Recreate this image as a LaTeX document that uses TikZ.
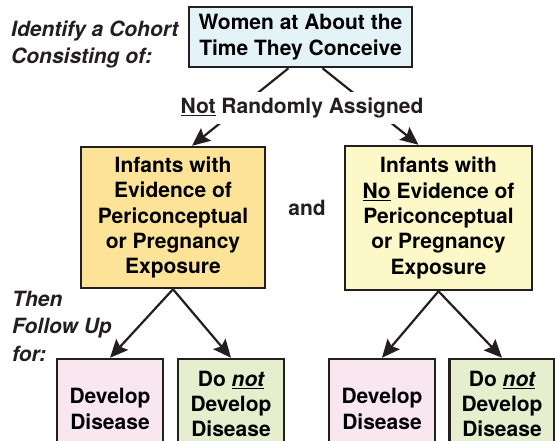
\documentclass[tikz,border=0pt]{standalone}
\usepackage{fontspec}
\setmainfont{TeX Gyre Heros}
\usetikzlibrary{arrows.meta}
\definecolor{boxline}{HTML}{231F20}
\definecolor{boxblue}{HTML}{E3F3F8}
\definecolor{boxorange}{HTML}{FDE398}
\definecolor{boxyellow}{HTML}{FCF8C8}
\definecolor{boxpink}{HTML}{F9E7F0}
\definecolor{boxgreen}{HTML}{E5EECD}
\begin{document}
\begin{tikzpicture}[x=1pt,y=-1pt,
  box/.style={draw=boxline,line width=2.5pt,align=center,inner sep=0pt,
    font=\fontsize{21}{25.3}\selectfont\bfseries},
  arr/.style={-{Stealth[length=18pt,width=16pt,inset=3pt]},line width=2.2pt,draw=boxline},
  side/.style={align=left,anchor=west,inner sep=0pt,text=boxline,
    font=\fontsize{21}{27.5}\selectfont\bfseries\itshape}]
\useasboundingbox (0,0) rectangle (555,440);
\clip (0,0) rectangle (555,440);
% cohort
\node[box,fill=boxblue,minimum width=223pt,minimum height=60pt] (women) at (300.5,37) {Women at About the\\Time They Conceive};
\node[side] (identify) at (11,44.5) {Identify a Cohort\\Consisting of:};
% exposure groups
\node[box,fill=boxorange,minimum width=184pt,minimum height=141pt] (exposed) at (173,217.5) {Infants with\\Evidence of\\Periconceptual\\or Pregnancy\\Exposure};
\node[box,fill=boxyellow,minimum width=187pt,minimum height=144pt] (unexposed) at (438.5,218) {Infants with\\\underline{No} Evidence of\\Periconceptual\\or Pregnancy\\Exposure};
\node[font=\fontsize{21}{25}\selectfont\bfseries,text=boxline] (and) at (307,208) {and};
\draw[arr] ([xshift=-12pt]women.south) -- ([xshift=19pt]exposed.north);
\draw[arr] ([xshift=22pt]women.south) -- ([xshift=-20pt]unexposed.north);
\node[fill=white,inner xsep=2pt,inner ysep=6pt,text=boxline,font=\fontsize{21}{25}\selectfont\bfseries] (assigned) at (302,108) {\underline{Not} Randomly Assigned};
% outcomes
\node[side] (follow) at (12,326) {Then\\Follow Up\\for:};
\node[box,fill=boxpink,minimum width=106pt,minimum height=100pt] (dis1) at (110,409) {Develop\\Disease};
\node[box,fill=boxgreen,minimum width=106pt,minimum height=90pt] (nodis1) at (231,404) {Do \underline{\itshape not}\\Develop\\Disease};
\node[box,fill=boxpink,minimum width=106pt,minimum height=100pt] (dis2) at (382,409) {Develop\\Disease};
\node[box,fill=boxgreen,minimum width=105pt,minimum height=90pt] (nodis2) at (502,404) {Do \underline{\itshape not}\\Develop\\Disease};
\draw[arr] (exposed.south) -- (dis1.north);
\draw[arr] (exposed.south) -- (nodis1.north);
\draw[arr] (unexposed.south) -- (dis2.north);
\draw[arr] (unexposed.south) -- (nodis2.north);
\end{tikzpicture}
\end{document}
